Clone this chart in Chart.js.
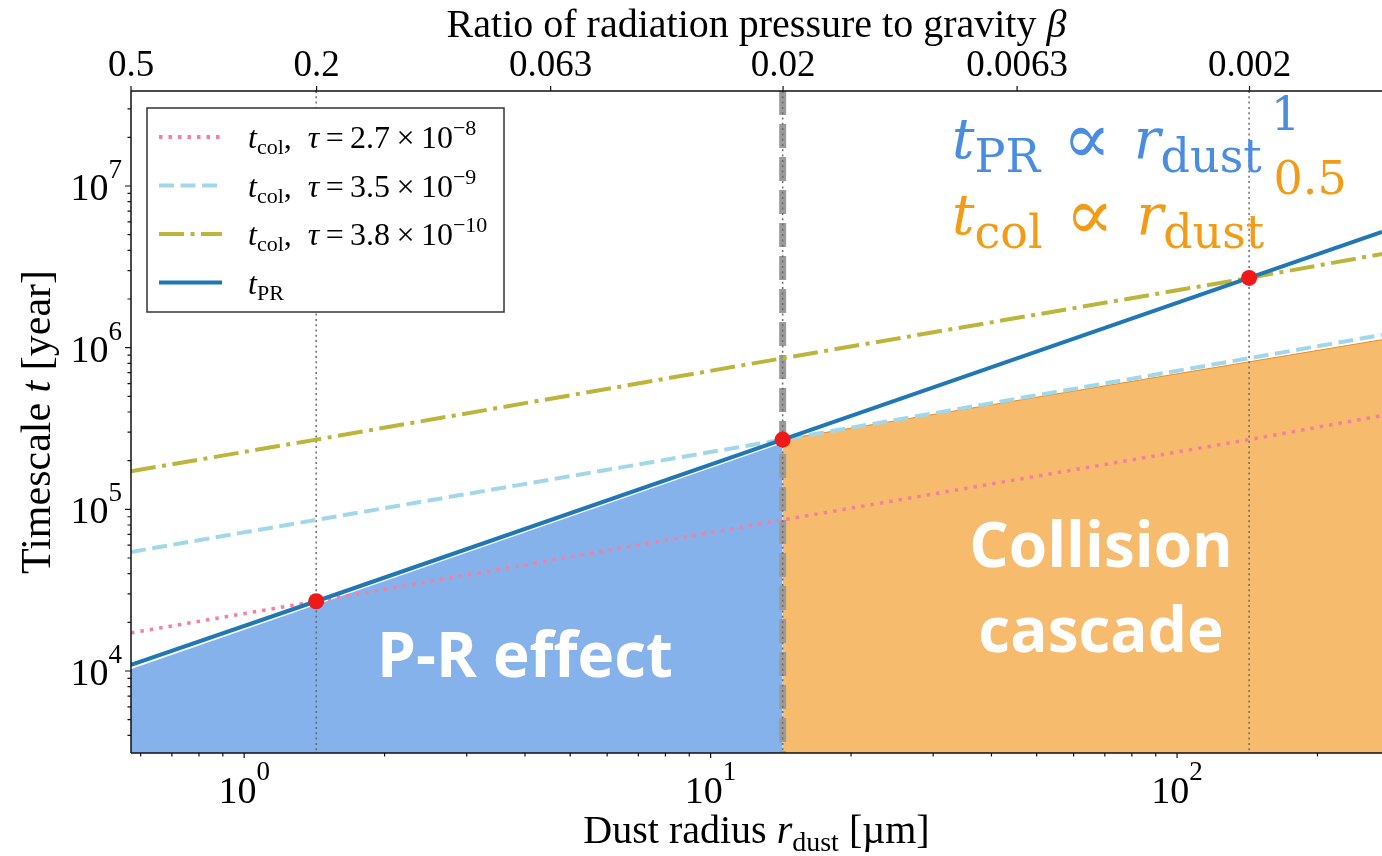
<!DOCTYPE html>
<html>
<head>
<meta charset="utf-8">
<title>Timescale vs dust radius</title>
<script src="https://cdn.jsdelivr.net/npm/chart.js@4.4.0/dist/chart.umd.min.js"></script>
<style>
  html, body { margin: 0; padding: 0; background: #fff; overflow: hidden; }
  #wrap { width: 1382px; height: 856px; }
</style>
</head>
<body>
<div id="wrap"><canvas id="timescaleChart" width="1382" height="856"></canvas></div>
<script>
// Dust radius samples (um): left edge, the three crossings, right edge
const radius = [0.572, 1.427, 14.27, 142.7, 275];
// Timescales (year)
const tPR      = [1.09e4, 2.70e4, 2.70e5, 2.70e6, 5.2e6];
const tColTau1 = [1.72e4, 2.70e4, 8.6e4, 2.70e5, 3.8e5];   // tau = 2.7e-8
const tColTau2 = [5.45e4, 8.6e4, 2.70e5, 8.6e5, 1.2e6];    // tau = 3.5e-9
const tColTau3 = [1.72e5, 2.70e5, 8.6e5, 2.70e6, 3.8e6];   // tau = 3.8e-10

// crossing points (red dots + vertical markers)
const crossRadius = [1.427, 14.27, 142.7];
const crossTime = [2.70e4, 2.70e5, 2.70e6];

// shaded regions (top edge)
const prRegionRadius = [0.572, 14.27];
const prRegionTop = [1.04e4, 2.6e5];
const ccRegionRadius = [14.27, 275];
const ccRegionTop = [2.7e5, 1.12e6];

// axes
const xRange = [0.572, 275];
const yRange = [3.11e3, 3.87e7];
const xMajor = [1, 10, 100];
const yMajor = [1e4, 1e5, 1e6, 1e7];
const betaTicks = ['0.5', '0.2', '0.063', '0.02', '0.0063', '0.002'];
const betaTimesRadius = 0.286; // beta * r_dust

const SERIF = '"Liberation Serif", "Times New Roman", serif';
const MATH = '"DejaVu Serif", serif';

function pts(xs, ys) {
    return xs.map((x, i) => ({ x: x, y: ys[i] }));
}

function minorTicks(lo, hi) {
    const out = [];
    for (let e = Math.floor(Math.log10(lo)); e <= Math.ceil(Math.log10(hi)); e++) {
        for (let k = 2; k <= 9; k++) {
            const v = k * Math.pow(10, e);
            if (v >= lo && v <= hi) out.push(v);
        }
    }
    return out;
}

// draw a run of text pieces: [text, font, dy]
function drawParts(ctx, x, y, parts, align, hs) {
    hs = hs || 1;
    ctx.save();
    let w = 0;
    parts.forEach(p => { ctx.font = p[1]; w += ctx.measureText(p[0]).width; });
    let sx = x;
    if (align === 'center') sx = x - w * hs / 2;
    if (align === 'right') sx = x - w * hs;
    ctx.translate(sx, y);
    ctx.scale(hs, 1);
    ctx.textBaseline = 'alphabetic';
    ctx.textAlign = 'left';
    let cx = 0;
    parts.forEach(p => {
        ctx.font = p[1];
        ctx.fillText(p[0], cx, p[2] || 0);
        cx += ctx.measureText(p[0]).width;
    });
    ctx.restore();
}

function vline(ctx, xs, area, color, width, dash) {
    ctx.save();
    ctx.strokeStyle = color;
    ctx.lineWidth = width;
    ctx.setLineDash(dash);
    ctx.beginPath();
    ctx.moveTo(xs, area.top);
    ctx.lineTo(xs, area.bottom);
    ctx.stroke();
    ctx.restore();
}

const overlayPlugin = {
    id: 'overlay',
    afterDatasetDraw(chart, args) {
        // vertical markers go right above the shaded regions
        if (args.index !== 6) return;
        const ctx = chart.ctx, area = chart.chartArea, xs = chart.scales.x;
        ctx.save();
        ctx.beginPath();
        ctx.rect(area.left, area.top, area.right - area.left, area.bottom - area.top);
        ctx.clip();
        vline(ctx, xs.getPixelForValue(crossRadius[1]), area, '#9b9b9b', 7, [24, 9]);
        crossRadius.forEach(r => {
            vline(ctx, xs.getPixelForValue(r), area, '#6a6a6a', 1.5, [2, 3.3]);
        });
        ctx.restore();
    },
    afterDraw(chart) {
        const ctx = chart.ctx, area = chart.chartArea;
        const xs = chart.scales.x, ys = chart.scales.y;
        ctx.save();

        // region labels
        ctx.fillStyle = '#ffffff';
        const bold = 'bold 62px "Open Sans", sans-serif';
        drawParts(ctx, 525, 677, [['P-R effect', bold]], 'center');
        drawParts(ctx, 1101, 567, [['Collision', bold]], 'center');
        drawParts(ctx, 1101, 652, [['cascade', bold]], 'center');

        // power-law annotations
        const bigI = 'italic 56px ' + MATH, sub = '46px ' + MATH;
        const prop = '72px ' + MATH, gap = '45px ' + MATH;
        ctx.fillStyle = '#4a8de0';
        drawParts(ctx, 952, 158, [
            ['t', bigI, 0], ['PR', sub, 14],
            ['\u2002', gap, 0], ['\u221d', prop, 5], ['\u2002', gap, 0], ['r', bigI, 0],
            ['dust', sub, 14], ['\u20091', sub, -28]
        ], 'left');
        ctx.fillStyle = '#f29b16';
        drawParts(ctx, 952, 234, [
            ['t', bigI, 0], ['col', sub, 14],
            ['\u2002', gap, 0], ['\u221d', prop, 5], ['\u2002', gap, 0], ['r', bigI, 0],
            ['dust', sub, 14], ['\u20090.5', sub, -40]
        ], 'left');

        // spines
        ctx.strokeStyle = '#111';
        ctx.lineWidth = 1.5;
        ctx.setLineDash([]);
        ctx.beginPath();
        ctx.moveTo(area.left, area.top); ctx.lineTo(area.right, area.top);
        ctx.moveTo(area.left, area.bottom); ctx.lineTo(area.right, area.bottom);
        ctx.moveTo(area.left, area.top); ctx.lineTo(area.left, area.bottom);
        ctx.stroke();

        // tick marks
        ctx.lineWidth = 1.2;
        ctx.beginPath();
        yMajor.forEach(v => { const p = ys.getPixelForValue(v); ctx.moveTo(area.left - 6, p); ctx.lineTo(area.left, p); });
        minorTicks(yRange[0], yRange[1]).forEach(v => { const p = ys.getPixelForValue(v); ctx.moveTo(area.left - 3.5, p); ctx.lineTo(area.left, p); });
        xMajor.forEach(v => { const p = xs.getPixelForValue(v); ctx.moveTo(p, area.bottom); ctx.lineTo(p, area.bottom + 5); });
        minorTicks(xRange[0], xRange[1]).forEach(v => { const p = xs.getPixelForValue(v); ctx.moveTo(p, area.bottom); ctx.lineTo(p, area.bottom + 3.5); });
        betaTicks.forEach(b => { const p = xs.getPixelForValue(betaTimesRadius / parseFloat(b)); ctx.moveTo(p, area.top); ctx.lineTo(p, area.top - 5); });
        ctx.stroke();

        // tick labels
        ctx.fillStyle = '#000';
        yMajor.forEach(v => {
            const p = ys.getPixelForValue(v);
            drawParts(ctx, area.left - 9, p + 14, [['10', '38px ' + SERIF, 0], [String(Math.round(Math.log10(v))), '27px ' + SERIF, -22]], 'right');
        });
        xMajor.forEach(v => {
            const p = xs.getPixelForValue(v);
            drawParts(ctx, p, 803, [['10', '38px ' + SERIF, 0], [String(Math.round(Math.log10(v))), '27px ' + SERIF, -23]], 'center');
        });
        betaTicks.forEach(b => {
            const p = xs.getPixelForValue(betaTimesRadius / parseFloat(b));
            drawParts(ctx, p, 76, [[b, '37px ' + SERIF]], 'center');
        });

        // axis titles
        const cx = (area.left + area.right) / 2;
        drawParts(ctx, cx, 37, [['Ratio of radiation pressure to gravity ', '40px ' + SERIF], ['\u03b2', 'italic 40px ' + SERIF]], 'center');
        drawParts(ctx, cx, 843, [
            ['Dust radius ', '40px ' + SERIF], ['r', 'italic 40px ' + SERIF],
            ['dust', '28px ' + SERIF, 8], [' [\u00b5m]', '40px ' + SERIF]
        ], 'center');
        ctx.save();
        ctx.translate(50, (area.top + area.bottom) / 2);
        ctx.rotate(-Math.PI / 2);
        drawParts(ctx, 0, 0, [['Timescale ', '42px ' + SERIF], ['t', 'italic 42px ' + SERIF], [' [year]', '42px ' + SERIF]], 'center');
        ctx.restore();

        // legend
        const lx = area.left + 16, ly = area.top + 17, lw = 357, lh = 204;
        ctx.fillStyle = '#fff';
        ctx.fillRect(lx, ly, lw, lh);
        ctx.strokeStyle = '#333';
        ctx.lineWidth = 1.5;
        ctx.strokeRect(lx, ly, lw, lh);
        const ds = chart.data.datasets;
        const entries = [
            [ds[5], 'col', '2.7', '\u22128'],
            [ds[4], 'col', '3.5', '\u22129'],
            [ds[3], 'col', '3.8', '\u221210'],
            [ds[1], 'PR', null, null]
        ];
        const f = '32px ' + SERIF, fi = 'italic 32px ' + SERIF, fs = '22px ' + SERIF;
        entries.forEach((e, i) => {
            const ry = ly + 29 + i * 48.5;
            ctx.strokeStyle = e[0].borderColor;
            ctx.lineWidth = 4;
            ctx.setLineDash(e[0].borderDash || []);
            ctx.beginPath();
            ctx.moveTo(lx + 12, ry);
            ctx.lineTo(lx + 75, ry);
            ctx.stroke();
            ctx.fillStyle = '#000';
            const parts = [['t', fi, 0], [e[1], fs, 6]];
            if (e[2]) {
                parts.push([',  ', f, 0], ['\u03c4', fi, 0], ['\u2009=\u2009' + e[2] + '\u2009\u00d7\u200910', f, 0], [e[3], fs, -13]);
            }
            drawParts(ctx, lx + 101, ry + 11, parts, 'left');
        });
        ctx.restore();
    }
};

const ctx = document.getElementById('timescaleChart');
new Chart(ctx, {
    type: 'scatter',
    data: {
        datasets: [
            {
                label: 'crossing',
                data: pts(crossRadius, crossTime),
                pointRadius: 8,
                pointBackgroundColor: '#ee1a1a',
                pointBorderColor: '#ee1a1a',
                pointBorderWidth: 0,
                order: 0
            },
            {
                label: 't_PR',
                data: pts(radius, tPR),
                showLine: true,
                borderColor: '#1f77b4',
                borderWidth: 4,
                pointRadius: 0,
                clip: 0,
                order: 1
            },
            {
                label: 'spare',
                data: [],
                order: 2
            },
            {
                label: 't_col tau=3.8e-10',
                data: pts(radius, tColTau3),
                showLine: true,
                borderColor: '#bcb53c',
                borderWidth: 4,
                borderDash: [25, 6.5, 4, 6.5],
                pointRadius: 0,
                clip: 0,
                order: 3
            },
            {
                label: 't_col tau=3.5e-9',
                data: pts(radius, tColTau2),
                showLine: true,
                borderColor: '#a0d8ea',
                borderWidth: 4,
                borderDash: [15, 6.5],
                pointRadius: 0,
                clip: 0,
                order: 4
            },
            {
                label: 't_col tau=2.7e-8',
                data: pts(radius, tColTau1),
                showLine: true,
                borderColor: '#f77ea3',
                borderWidth: 3.5,
                borderDash: [3.5, 6],
                pointRadius: 0,
                clip: 0,
                order: 5
            },
            {
                label: 'collision region',
                data: pts(ccRegionRadius, ccRegionTop),
                showLine: true,
                fill: 'start',
                backgroundColor: '#f6bb6d',
                borderColor: '#f08a1c',
                borderWidth: 1,
                pointRadius: 0,
                clip: 0,
                order: 10
            },
            {
                label: 'P-R region',
                data: pts(prRegionRadius, prRegionTop),
                showLine: true,
                fill: 'start',
                backgroundColor: '#85b2eb',
                borderColor: '#ffffff',
                borderWidth: 1.5,
                pointRadius: 0,
                clip: 0,
                order: 11
            }
        ]
    },
    options: {
        responsive: false,
        animation: false,
        events: [],
        layout: { autoPadding: false, padding: { top: 91, right: 0, bottom: 0, left: 0 } },
        plugins: {
            legend: { display: false },
            tooltip: { enabled: false }
        },
        scales: {
            x: {
                type: 'logarithmic',
                position: 'bottom',
                min: xRange[0],
                max: xRange[1],
                bounds: 'data',
                grid: { display: false },
                border: { display: false },
                ticks: { display: false },
                afterFit: s => { s.height = 103; }
            },
            y: {
                type: 'logarithmic',
                position: 'left',
                min: yRange[0],
                max: yRange[1],
                bounds: 'data',
                grid: { display: false },
                border: { display: false },
                ticks: { display: false },
                afterFit: s => { s.width = 131; }
            }
        }
    },
    plugins: [overlayPlugin]
});
</script>
</body>
</html>
